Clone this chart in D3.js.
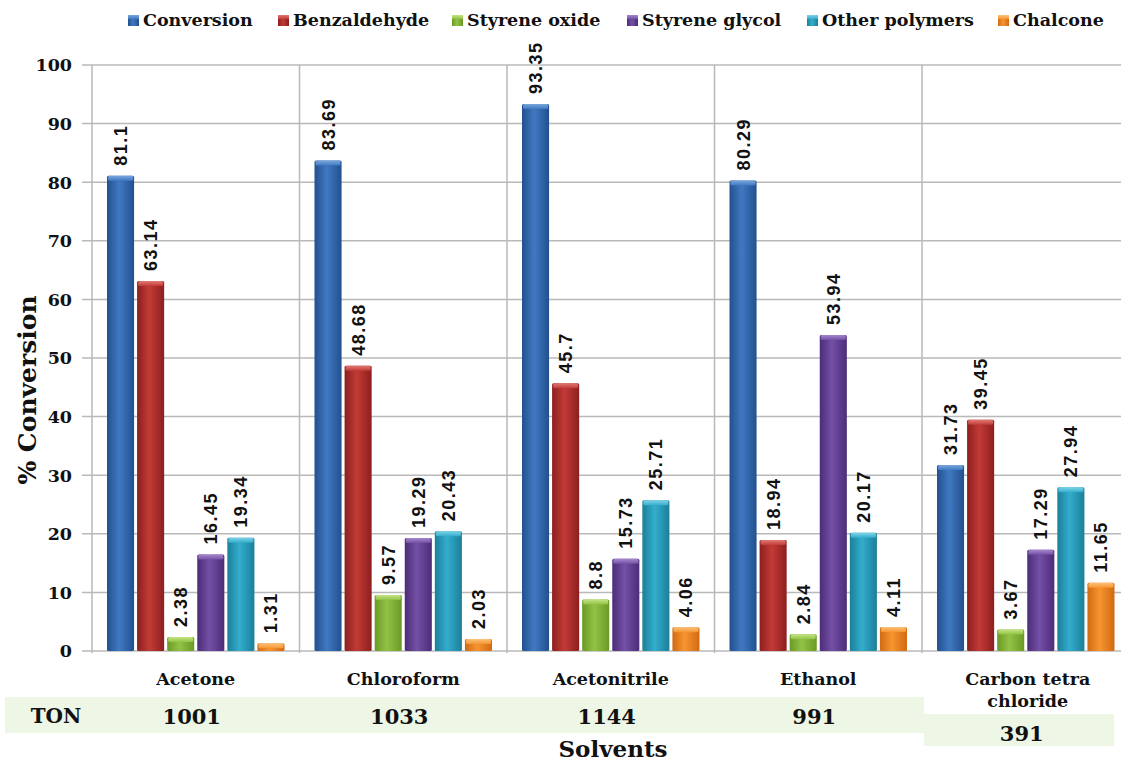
<!DOCTYPE html>
<html>
<head>
<meta charset="utf-8">
<script src="https://cdn.jsdelivr.net/npm/d3@7/dist/d3.min.js"></script>
<style>
  html, body { margin: 0; padding: 0; background: #fff; }
  svg { display: block; }
  .serif { font-family: "DejaVu Serif", "Liberation Serif", serif; font-weight: bold; }
  .val { font-family: "Liberation Sans", Arial, sans-serif; font-weight: bold; }
</style>
</head>
<body>
<svg id="chart" width="1121" height="765"></svg>
<script>
// ---- data ----
const solvents = ["Acetone", "Chloroform", "Acetonitrile", "Ethanol", "Carbon tetra chloride"];
const seriesNames = ["Conversion", "Benzaldehyde", "Styrene oxide", "Styrene glycol", "Other polymers", "Chalcone"];
const conversion    = [81.1, 83.69, 93.35, 80.29, 31.73];
const benzaldehyde  = [63.14, 48.68, 45.7, 18.94, 39.45];
const styreneOxide  = [2.38, 9.57, 8.8, 2.84, 3.67];
const styreneGlycol = [16.45, 19.29, 15.73, 53.94, 17.29];
const otherPolymers = [19.34, 20.43, 25.71, 20.17, 27.94];
const chalcone      = [1.31, 2.03, 4.06, 4.11, 11.65];
const ton = [1001, 1033, 1144, 991, 391];
const yTicks = [0, 10, 20, 30, 40, 50, 60, 70, 80, 90, 100];

const seriesValues = [conversion, benzaldehyde, styreneOxide, styreneGlycol, otherPolymers, chalcone];

// bar colours: [edge, centre, top cap]
const palette = [
  ["#22508f", "#4079c2", "#7aa6dc"],
  ["#8c1f1f", "#c23b36", "#e07a74"],
  ["#6a9a26", "#92c245", "#c4e585"],
  ["#4c2c78", "#7450a6", "#a688cc"],
  ["#1b7f9a", "#33adcc", "#7fd3e6"],
  ["#d06a12", "#f7952f", "#fbc27d"]
];

const svg = d3.select("#chart");
const defs = svg.append("defs");

palette.forEach((c, i) => {
  const g = defs.append("linearGradient").attr("id", "bar" + i)
    .attr("x1", "0").attr("x2", "1").attr("y1", "0").attr("y2", "0");
  g.append("stop").attr("offset", "0%").attr("stop-color", c[0]);
  g.append("stop").attr("offset", "45%").attr("stop-color", c[1]);
  g.append("stop").attr("offset", "100%").attr("stop-color", c[0]);
  const t = defs.append("linearGradient").attr("id", "cap" + i)
    .attr("x1", "0").attr("x2", "0").attr("y1", "0").attr("y2", "1");
  t.append("stop").attr("offset", "0%").attr("stop-color", c[2]);
  t.append("stop").attr("offset", "100%").attr("stop-color", c[1]);
});

// ---- scales ----
const plotLeft = 92, groupW = 207.5, plotTop = 65, plotBottom = 651;
const x0 = d3.scaleBand().domain(solvents)
  .range([plotLeft, plotLeft + groupW * solvents.length]).padding(0);
const x1 = d3.scaleBand().domain(seriesNames)
  .range([13.5, groupW - 13.5]).paddingInner(0.1).paddingOuter(0.05);
const y = d3.scaleLinear().domain([0, 100]).range([plotBottom, plotTop]);

const gridColor = "#b9b9b9";

// horizontal gridlines
svg.append("g").selectAll("line").data(yTicks).join("line")
  .attr("x1", plotLeft - 10).attr("x2", 1121)
  .attr("y1", d => y(d)).attr("y2", d => y(d))
  .attr("stroke", gridColor).attr("stroke-width", 1.5);

// vertical separators between solvent groups
svg.append("g").selectAll("line").data(solvents).join("line")
  .attr("x1", d => x0(d)).attr("x2", d => x0(d))
  .attr("y1", plotTop).attr("y2", plotBottom + 2)
  .attr("stroke", gridColor).attr("stroke-width", 1.5);

// y tick labels
svg.append("g").selectAll("text").data(yTicks).join("text")
  .attr("class", "serif")
  .attr("x", 72).attr("y", d => y(d)).attr("dy", "0.36em")
  .attr("text-anchor", "end").attr("font-size", 17.5).attr("fill", "#111")
  .text(d => d);

// bars
const groups = svg.append("g").selectAll("g").data(solvents).join("g")
  .attr("transform", d => `translate(${x0(d)},0)`);

groups.each(function(solvent, si) {
  const g = d3.select(this);
  seriesNames.forEach((name, k) => {
    const v = seriesValues[k][si];
    const bx = x1(name), bw = x1.bandwidth();
    const top = y(v), h = y(0) - y(v);
    g.append("rect").attr("x", bx).attr("y", top).attr("width", bw).attr("height", h)
      .attr("fill", `url(#bar${k})`).attr("rx", 1.5);
    const capH = Math.min(5, h);
    g.append("rect").attr("x", bx + 1).attr("y", top).attr("width", bw - 2).attr("height", capH)
      .attr("fill", `url(#cap${k})`).attr("rx", 1.5);
    g.append("text").attr("class", "val")
      .attr("transform", `translate(${bx + bw / 2 + 6.5},${top - 10}) rotate(-90)`)
      .attr("font-size", 18).attr("letter-spacing", 1.5).attr("fill", "#111")
      .text(v);
  });
});

// TON table background
svg.append("rect").attr("x", 5).attr("y", 697).attr("width", x0(solvents[4]) + 2 - 5).attr("height", 36)
  .attr("fill", "#eef7e6");
svg.append("rect").attr("x", x0(solvents[4]) + 2).attr("y", 714).attr("width", 190).attr("height", 32)
  .attr("fill", "#eef7e6");

// category labels
svg.append("g").selectAll("text").data(solvents).join("text")
  .attr("class", "serif").attr("font-size", 17.5).attr("fill", "#111")
  .attr("text-anchor", "middle")
  .attr("x", d => x0(d) + groupW / 2)
  .each(function(d) {
    const t = d3.select(this);
    if (d === "Carbon tetra chloride") {
      t.append("tspan").attr("x", x0(d) + groupW / 2 + 2).attr("y", 685).text("Carbon tetra");
      t.append("tspan").attr("x", x0(d) + groupW / 2 + 2).attr("y", 707).text("chloride");
    } else {
      t.attr("y", 685).text(d);
    }
  });

// TON row
svg.append("text").attr("class", "serif").attr("x", 56).attr("y", 723)
  .attr("text-anchor", "middle").attr("font-size", 20).attr("fill", "#111").text("TON");
svg.append("g").selectAll("text").data(solvents).join("text")
  .attr("class", "serif").attr("font-size", 21).attr("fill", "#111")
  .attr("text-anchor", "middle")
  .attr("x", (d, i) => x0(d) + groupW / 2 - 4)
  .attr("y", (d, i) => i === 4 ? 741 : 724)
  .text((d, i) => ton[i]);

// axis titles
svg.append("text").attr("class", "serif").attr("x", 613).attr("y", 757)
  .attr("text-anchor", "middle").attr("font-size", 23).attr("fill", "#111").text("Solvents");
svg.append("text").attr("class", "serif")
  .attr("transform", "translate(36,390) rotate(-90)")
  .attr("text-anchor", "middle").attr("font-size", 25).attr("fill", "#111").text("% Conversion");

// legend
const legendX = [128, 278, 452, 627, 807, 998];
const legend = svg.append("g").selectAll("g").data(seriesNames).join("g")
  .attr("transform", (d, i) => `translate(${legendX[i]},20)`);
legend.append("rect").attr("x", 0).attr("y", -5).attr("width", 11).attr("height", 11)
  .attr("fill", (d, i) => `url(#bar${i})`);
legend.append("rect").attr("x", 0).attr("y", -5).attr("width", 11).attr("height", 4)
  .attr("fill", (d, i) => `url(#cap${i})`);
legend.append("text").attr("class", "serif").attr("x", 15).attr("y", 0).attr("dy", "0.36em")
  .attr("font-size", 17.5).attr("fill", "#111").text(d => d);
</script>
</body>
</html>
